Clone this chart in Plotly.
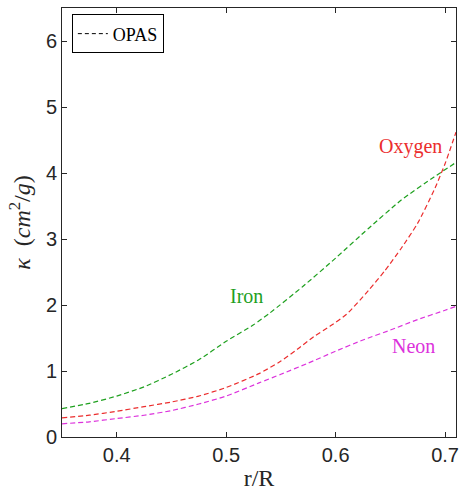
import plotly.graph_objects as go

iron_r = [0.35, 0.375, 0.40, 0.425, 0.45, 0.475, 0.50, 0.525, 0.54, 0.57, 0.60, 0.63, 0.66, 0.69, 0.71]
iron_k = [0.43, 0.51, 0.62, 0.76, 0.95, 1.17, 1.45, 1.70, 1.88, 2.28, 2.71, 3.16, 3.59, 3.94, 4.16]

oxy_r = [0.35, 0.375, 0.40, 0.425, 0.45, 0.475, 0.50, 0.53, 0.55, 0.565, 0.58, 0.595, 0.61,
         0.63, 0.645, 0.66, 0.675, 0.69, 0.70, 0.71]
oxy_k = [0.29, 0.33, 0.39, 0.46, 0.53, 0.62, 0.75, 0.96, 1.15, 1.33, 1.52, 1.68, 1.86,
         2.22, 2.52, 2.86, 3.24, 3.74, 4.14, 4.62]

neon_r = [0.35, 0.375, 0.40, 0.425, 0.45, 0.475, 0.50, 0.53, 0.55, 0.575, 0.60, 0.625, 0.65, 0.675, 0.70, 0.71]
neon_k = [0.20, 0.23, 0.28, 0.33, 0.40, 0.50, 0.62, 0.82, 0.95, 1.12, 1.30, 1.47, 1.62, 1.78, 1.92, 1.98]

GREEN = "rgb(30,160,30)"
RED = "rgb(235,45,45)"
MAG = "rgb(220,50,220)"
AX = "rgb(38,38,38)"
SERIF = "Liberation Serif, Times New Roman, serif"
SANS = "Liberation Sans, Arial, sans-serif"
DASH = "5px,3px"

fig = go.Figure()
fig.add_trace(go.Scatter(x=iron_r, y=iron_k, mode="lines", line=dict(color=GREEN, dash=DASH, width=1.2, shape="spline", smoothing=0.6), showlegend=False))
fig.add_trace(go.Scatter(x=oxy_r, y=oxy_k, mode="lines", line=dict(color=RED, dash=DASH, width=1.2, shape="spline", smoothing=0.6), showlegend=False))
fig.add_trace(go.Scatter(x=neon_r, y=neon_k, mode="lines", line=dict(color=MAG, dash=DASH, width=1.2, shape="spline", smoothing=0.6), showlegend=False))
fig.add_trace(go.Scatter(x=[None], y=[None], mode="lines", name="OPAS", line=dict(color="black", dash="4px,3px", width=1)))

fig.add_annotation(x=0.668, y=4.4, text="Oxygen", showarrow=False, font=dict(family=SERIF, size=20, color=RED))
fig.add_annotation(x=0.519, y=2.14, text="Iron", showarrow=False, font=dict(family=SERIF, size=20, color=GREEN))
fig.add_annotation(x=0.6715, y=1.38, text="Neon", showarrow=False, font=dict(family=SERIF, size=20, color=MAG))

axis_common = dict(showline=True, linecolor=AX, linewidth=1, mirror="ticks", ticks="inside", ticklen=5,
                   tickcolor=AX, showgrid=False, zeroline=False, automargin=False,
                   tickfont=dict(family=SANS, size=20, color=AX))
fig.update_xaxes(range=[0.35, 0.71], tickvals=[0.4, 0.5, 0.6, 0.7], ticktext=["0.4", "0.5", "0.6", "0.7"],
                 title=dict(text="r/R", font=dict(family=SERIF, size=24, color=AX), standoff=4), **axis_common)
fig.update_yaxes(range=[0, 6.5], tickvals=[0, 1, 2, 3, 4, 5, 6],
                 title=dict(text="<i>κ</i>  (<i>cm</i><sup>2</sup>/<i>g</i>)", font=dict(family=SERIF, size=24, color=AX), standoff=8),
                 **axis_common)

fig.update_layout(
    width=459, height=501,
    margin=dict(l=62, r=3, t=8, b=64),
    paper_bgcolor="white", plot_bgcolor="white",
    legend=dict(x=0.025, y=0.985, xanchor="left", yanchor="top", bordercolor="black", borderwidth=1,
                bgcolor="white", font=dict(family=SERIF, size=18, color="black"),
                itemwidth=30, tracegroupgap=0),
)

fig.write_html("out.html")
